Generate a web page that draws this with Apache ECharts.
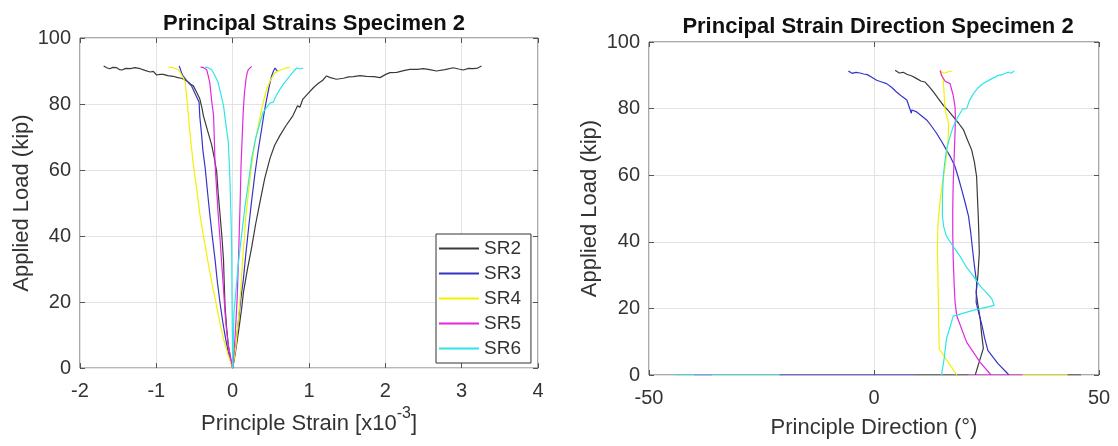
<!DOCTYPE html>
<html>
<head>
<meta charset="utf-8">
<script src="https://cdn.jsdelivr.net/npm/echarts@6/dist/echarts.min.js"></script>
<style>
html,body{margin:0;padding:0;background:#fff;}
#c{width:1118px;height:446px;}
</style>
</head>
<body>
<div id="c"></div>
<script>
// ---------- data ----------
const seriesNames = ['SR2', 'SR3', 'SR4', 'SR5', 'SR6'];
const seriesColors = ['#3a3a3a', '#3434c8', '#f2f200', '#e028e0', '#2ee6e6'];
const BREAK = ['-', '-'];

// Principal strain [x10^-3] vs applied load (kip)
const sr2Strain = [[-1.69,91.5],[-1.65,91.0],[-1.61,90.7],[-1.57,91.1],[-1.52,91.0],[-1.48,90.4],[-1.45,90.3],[-1.40,90.8],[-1.34,90.7],[-1.28,91.0],[-1.21,90.7],[-1.15,90.2],[-1.08,89.7],[-1.04,89.9],[-0.996,88.8],[-0.95,89.0],[-0.91,89.0],[-0.85,88.6],[-0.78,88.4],[-0.72,88.0],[-0.67,87.8],[-0.60,87.0],[-0.55,86.0],[-0.515,85.5],[-0.47,83.5],[-0.43,81.5],[-0.40,78.5],[-0.384,76.5],[-0.33,72],[-0.275,67.6],[-0.24,63.5],[-0.21,59.6],[-0.19,53],[-0.166,46.7],[-0.14,39.5],[-0.12,32.7],[-0.11,25.5],[-0.10,18.8],[-0.08,12.5],[-0.057,6.9],[-0.025,2.5],[0,0],[0.03,3.9],[0.06,8.5],[0.087,12.8],[0.12,18.5],[0.14,22.8],[0.19,29.5],[0.25,36.7],[0.30,43.5],[0.36,50.6],[0.42,57.5],[0.49,63.6],[0.55,67.5],[0.62,70.5],[0.70,73.5],[0.79,76.5],[0.85,79.5],[0.88,79.0],[0.92,81.5],[0.98,83.0],[1.06,85.0],[1.12,86.2],[1.18,87.2],[1.23,88.5],[1.28,88.0],[1.36,87.5],[1.45,87.8],[1.52,88.2],[1.58,88.3],[1.67,88.6],[1.75,88.4],[1.85,88.3],[1.93,88.0],[2.0,88.9],[2.06,89.5],[2.15,89.6],[2.24,90.1],[2.32,90.5],[2.42,90.5],[2.50,90.7],[2.58,90.4],[2.67,90.0],[2.78,90.4],[2.89,91.0],[2.96,90.6],[3.02,90.3],[3.09,90.8],[3.15,90.7],[3.21,90.9],[3.26,91.5]];
const sr3Strain = [[-0.70,91.5],[-0.68,91.0],[-0.67,89.5],[-0.65,88.5],[-0.60,87.0],[-0.54,85.5],[-0.49,83.0],[-0.44,80.5],[-0.43,76],[-0.41,71.5],[-0.39,66],[-0.36,60.6],[-0.33,53.5],[-0.30,46.7],[-0.265,39.5],[-0.23,32.7],[-0.20,26],[-0.166,19.8],[-0.13,14],[-0.10,9.9],[-0.06,5],[0,0],[0.044,6.9],[0.065,12],[0.087,16.8],[0.11,21.5],[0.14,26.8],[0.17,34],[0.205,41.7],[0.245,50.0],[0.29,58.6],[0.335,66],[0.38,72.5],[0.41,77],[0.445,81.5],[0.48,85.5],[0.51,88.5],[0.535,90.0],[0.555,90.9],[0.57,91.5],[0.585,90.0]];
const sr4Strain = [[-0.84,91.2],[-0.78,91.0],[-0.71,90.4],[-0.66,88.5],[-0.62,86.5],[-0.60,81.5],[-0.58,76.5],[-0.55,69],[-0.515,61.6],[-0.47,54],[-0.43,46.7],[-0.375,39],[-0.32,31.7],[-0.265,25],[-0.21,18.8],[-0.165,13.5],[-0.12,8.9],[-0.06,4],[0,0],[0.044,6.9],[0.087,17.8],[0.11,25],[0.13,32.7],[0.155,40],[0.175,46.7],[0.21,54],[0.25,61.6],[0.29,68],[0.336,73.5],[0.39,79.5],[0.445,84.5],[0.50,87.5],[0.555,89.5],[0.60,90.0],[0.64,90.4],[0.70,90.9],[0.75,91.2]];
const sr5Strain = [[-0.42,91.2],[-0.38,91.0],[-0.34,90.4],[-0.32,88.5],[-0.30,86.5],[-0.275,81],[-0.25,76.5],[-0.24,69],[-0.23,61.6],[-0.21,54],[-0.19,46.7],[-0.165,39],[-0.144,31.7],[-0.12,24],[-0.10,16.8],[-0.08,11.5],[-0.057,6.9],[-0.025,3],[0,0],[0.03,8.9],[0.045,15],[0.06,21.8],[0.075,32],[0.087,41.7],[0.10,52],[0.11,61.6],[0.125,70],[0.14,78.5],[0.155,83.5],[0.175,87.5],[0.19,89.5],[0.205,90.4],[0.225,91.0],[0.25,91.4]];
const sr6Strain = [[-0.36,91.2],[-0.32,91.0],[-0.275,90.4],[-0.23,88.5],[-0.19,86.5],[-0.155,83],[-0.12,79.5],[-0.09,74],[-0.057,68.5],[-0.045,62.5],[-0.035,56.6],[-0.022,46],[-0.013,36.6],[-0.008,20],[0,0],[0.017,16.8],[0.045,24],[0.074,31.7],[0.115,40],[0.16,48.7],[0.205,56],[0.25,63.6],[0.30,69.5],[0.36,74.5],[0.40,77.5],[0.445,79.0],[0.49,80.3],[0.53,80.5],[0.57,82.5],[0.62,84.5],[0.68,86.5],[0.75,88.5],[0.80,90.0],[0.84,90.9],[0.88,90.6],[0.925,90.9]];

// Principal direction (deg) vs applied load (kip)
const sr2Dir = [[43,0],[46,0],BREAK,[9,0],[21,0],BREAK,[22.5,0],[23.4,4],[24.3,8],[23.9,12.5],[23.6,16.9],[23.1,21],[22.7,24.8],[23.1,30],[23.4,36.7],[23.3,42],[23.2,46.7],[23.0,53],[22.8,59.6],[22.3,64],[21.7,67.6],[20.8,70.5],[19.9,73.6],[18.8,75.6],[17.6,77.6],[16.5,79.4],[15.4,81],[14.3,83],[13.2,85],[12.3,86.5],[11.3,88],[10.4,88.3],[9.5,89],[8.4,89.8],[7.3,90.3],[6.5,90.9],[5.6,90.7],[4.7,91.5]];
const sr3Dir = [[-21,0],[9,0],BREAK,[30,0],[27.5,3.5],[25.3,7.4],[24.6,11],[24,14.9],[23.3,18.5],[22.7,21.8],[22.8,27.7],[22.3,33],[21.9,37.7],[21.5,42.7],[21,47.7],[20.3,51.5],[19.5,55.6],[18.8,59],[18,62.6],[17.1,65.2],[16.1,67.6],[15.0,70.2],[13.9,72.6],[12.8,74.7],[11.7,76.6],[10.6,77.8],[9.5,79.0],[8.4,79.6],[8.3,78.6],[7.3,82.6],[6.1,83.8],[5.0,85],[3.9,86.4],[2.8,87.5],[1.7,88.0],[0.6,88.5],[-0.5,89.4],[-1.5,90.2],[-2.3,90.4],[-3.1,90.7],[-4.0,90.9],[-4.9,90.6],[-5.7,91.3]];
const sr4Dir = [[33,0],[43,0],BREAK,[18.4,0],[16.4,4],[14.5,7.8],[14.4,15],[14.3,22.7],[14.2,30],[14.1,37.7],[14.2,45],[14.7,52.6],[15.2,57.6],[15.8,62.6],[16.2,67],[16.5,71.6],[16.6,75.5],[16.0,78.5],[15.8,79.6],[15.6,84],[15.4,88.5],[14.7,91.3],[15.5,90.6],[16.4,91.0],[17.3,91.3]];
const sr5Dir = [[-40,0],[-36,0],BREAK,[21,0],[33,0],[26,0],[23.6,3.8],[20.6,9.8],[18.4,17.7],[18.0,22],[17.8,27.7],[17.6,35],[17.5,42.7],[17.5,50],[17.6,57.6],[17.8,65],[18,72.6],[18.1,77],[18,80.6],[17.6,84],[16.9,87.5],[15.8,88.2],[15.4,88.5],[15.0,90],[14.7,91.5]];
const sr6Dir = [[-44.5,0],[-21,0],BREAK,[15.0,0],[15.6,5],[16.1,10.8],[17.6,17.7],[22,19.4],[26.7,20.9],[26.2,22.8],[25.3,24.3],[23.6,26.7],[22.1,29.7],[20.5,32.5],[19.1,35.7],[17.5,38.8],[16.1,41.7],[15.5,44.5],[15.2,47.7],[15.2,53],[15.4,59.6],[15.7,63.5],[16.1,67.6],[16.8,71.2],[17.6,74.6],[18.6,77.4],[19.7,79.9],[20.6,80],[21.2,82.4],[22.1,84.5],[23.1,86.2],[24.1,87.4],[25.8,88.7],[27.5,89.9],[28.7,90.3],[29.8,90.9],[30.5,90.6],[31.2,91.4]];

const strainSets = [sr2Strain, sr3Strain, sr4Strain, sr5Strain, sr6Strain];
const dirSets = [sr2Dir, sr3Dir, sr4Dir, sr5Dir, sr6Dir];

const strainRange = { min: -2, max: 4, step: 1 };
const dirRange = { min: -50, max: 50, step: 50 };
const loadRange = { min: 0, max: 100, step: 20 };

const titles = ['Principal Strains Specimen 2', 'Principal Strain Direction Specimen 2'];
const yName = 'Applied Load (kip)';
const strainName = 'Principle Strain [x10{sup|-3}]';
const dirName = 'Principle Direction (°)';

// ---------- styles ----------
const FONT = '"Liberation Sans", Arial, Helvetica, sans-serif';
const AXC = '#555';
const TXT = '#333';

function mainX(grid, r, name, gap, extraStyle) {
  return {
    type: 'value', gridIndex: grid, min: r.min, max: r.max, interval: r.step,
    position: 'bottom',
    name: name, nameLocation: 'middle', nameGap: gap,
    nameTextStyle: Object.assign({ fontFamily: FONT, fontSize: 22, color: TXT }, extraStyle || {}),
    axisLine: { show: false, onZero: false },
    axisTick: { show: true, inside: true, length: 5, lineStyle: { color: AXC } },
    axisLabel: { fontFamily: FONT, fontSize: 20, color: TXT, margin: 13 },
    splitLine: { show: true, lineStyle: { color: '#e3e3e3', width: 1 } }
  };
}
function topX(grid, r) {
  return {
    type: 'value', gridIndex: grid, min: r.min, max: r.max, interval: r.step,
    position: 'top',
    axisLine: { show: false, onZero: false },
    axisTick: { show: true, inside: true, length: 5, lineStyle: { color: AXC } },
    axisLabel: { show: false }, splitLine: { show: false }
  };
}
function mainY(grid, r, gap) {
  return {
    type: 'value', gridIndex: grid, min: r.min, max: r.max, interval: r.step,
    position: 'left',
    name: yName, nameLocation: 'middle', nameGap: gap,
    nameTextStyle: { fontFamily: FONT, fontSize: 22, color: TXT },
    axisLine: { show: false, onZero: false },
    axisTick: { show: true, inside: true, length: 5, lineStyle: { color: AXC } },
    axisLabel: { fontFamily: FONT, fontSize: 20, color: TXT, margin: 9 },
    splitLine: { show: true, lineStyle: { color: '#e3e3e3', width: 1 } }
  };
}
function rightY(grid, r) {
  return {
    type: 'value', gridIndex: grid, min: r.min, max: r.max, interval: r.step,
    position: 'right',
    axisLine: { show: false, onZero: false },
    axisTick: { show: true, inside: true, length: 5, lineStyle: { color: AXC } },
    axisLabel: { show: false }, splitLine: { show: false }
  };
}

const series = [];
seriesNames.forEach((n, i) => {
  series.push({
    name: n, type: 'line', xAxisIndex: 0, yAxisIndex: 0,
    data: strainSets[i], showSymbol: false, symbol: 'none', connectNulls: false,
    lineStyle: { color: seriesColors[i], width: 1.2 }, itemStyle: { color: seriesColors[i] },
    animation: false, silent: true
  });
});
seriesNames.forEach((n, i) => {
  series.push({
    name: n, type: 'line', xAxisIndex: 2, yAxisIndex: 2,
    data: dirSets[i], showSymbol: false, symbol: 'none', connectNulls: false,
    lineStyle: { color: seriesColors[i], width: 1.2 }, itemStyle: { color: seriesColors[i] },
    animation: false, silent: true
  });
});

const option = {
  backgroundColor: '#fff',
  animation: false,
  title: [
    { text: titles[0], left: 309, top: 8, textAlign: 'center',
      textStyle: { fontFamily: FONT, fontSize: 22, fontWeight: 'bold', color: '#111' } },
    { text: titles[1], left: 873, top: 11, textAlign: 'center',
      textStyle: { fontFamily: FONT, fontSize: 22, fontWeight: 'bold', color: '#111' } }
  ],
  legend: {
    data: seriesNames,
    orient: 'vertical',
    left: 436, top: 234,
    padding: [5, 10, 5, 3],
    itemGap: 6,
    itemWidth: 40, itemHeight: 2,
    icon: 'rect',
    backgroundColor: '#fff',
    borderColor: '#333', borderWidth: 1,
    textStyle: { fontFamily: FONT, fontSize: 19, color: TXT },
    selectedMode: false
  },
  grid: [
    { left: 80, right: 580, top: 38, bottom: 73, show: true, borderColor: AXC, borderWidth: 1, backgroundColor: 'transparent' },
    { left: 649, right: 19, top: 42, bottom: 70, show: true, borderColor: AXC, borderWidth: 1, backgroundColor: 'transparent' }
  ],
  xAxis: [
    mainX(0, strainRange, strainName, 37, { lineHeight: 35, rich: { sup: { fontFamily: FONT, fontSize: 16, lineHeight: 16, verticalAlign: 'top', color: TXT } } }),
    topX(0, strainRange),
    mainX(1, dirRange, dirName, 40, { lineHeight: 26 }),
    topX(1, dirRange)
  ],
  yAxis: [
    mainY(0, loadRange, 47),
    rightY(0, loadRange),
    mainY(1, loadRange, 48),
    rightY(1, loadRange)
  ],
  series: series
};

const chart = echarts.init(document.getElementById('c'), null, { renderer: 'canvas' });
chart.setOption(option);
</script>
</body>
</html>
